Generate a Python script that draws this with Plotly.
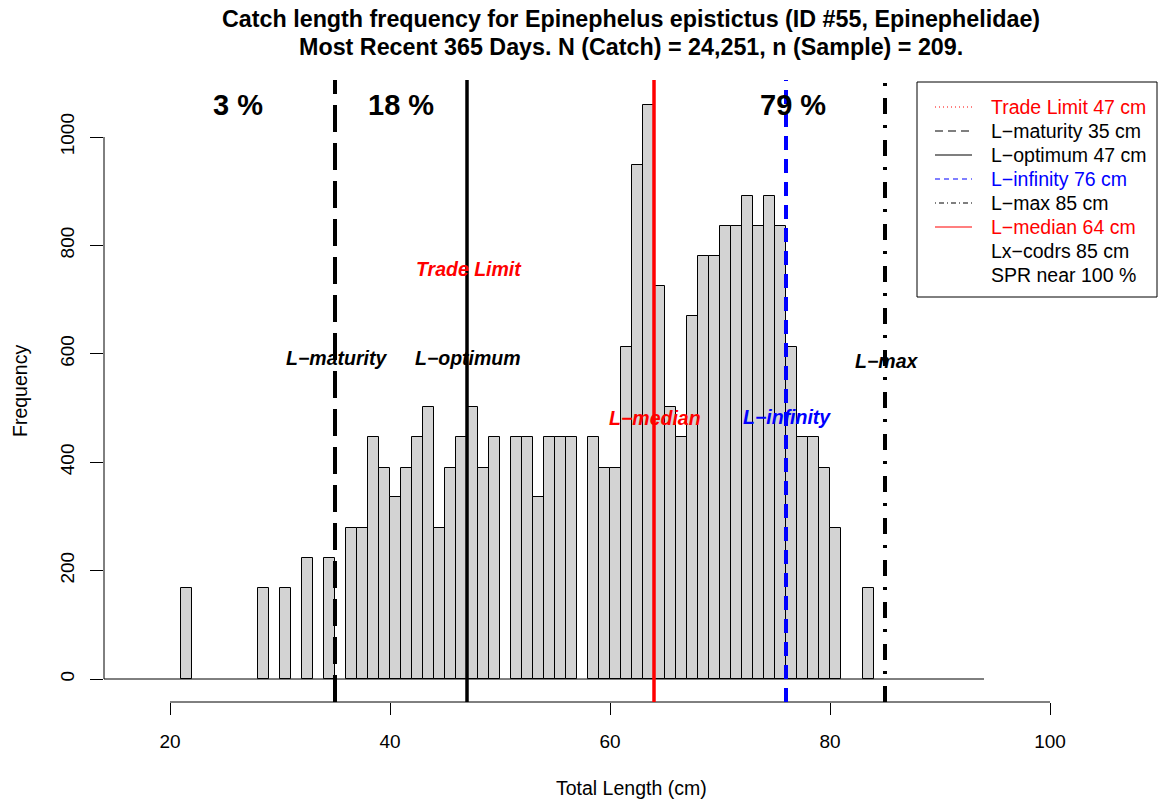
import plotly.graph_objects as go

# ---------------- data ----------------
bin_start_cm = [21, 28, 30, 32, 34, 36, 37, 38, 39, 40, 41, 42, 43, 44, 45, 46, 47, 48, 49,
                51, 52, 53, 54, 55, 56, 58, 59, 60, 61, 62, 63, 64, 65, 66, 67, 68, 69, 70,
                71, 72, 73, 74, 75, 76, 77, 78, 79, 80, 83]
frequency = [167, 167, 167, 223, 223, 279, 279, 446, 390, 335, 390, 446, 502, 279, 390, 446, 502, 390, 446,
             446, 446, 335, 446, 446, 446, 446, 390, 390, 613, 948, 1059, 725, 502, 446, 669, 781, 781, 836,
             836, 892, 836, 892, 836, 613, 446, 446, 390, 279, 167]

ref_names = ["Trade Limit", "L−maturity", "L−optimum", "L−infinity", "L−max", "L−median"]
ref_values = [47, 35, 47, 76, 85, 64]
pct_labels = ["3 %", "18 %", "79 %"]
pct_x = [26.2, 41.0, 76.6]
x_ticks = [20, 40, 60, 80, 100]
y_ticks = [0, 200, 400, 600, 800, 1000]

# ---------------- geometry ----------------
W, H = 1163, 803
L, R, T, B = 104, 1158, 80, 702
X0, X1 = 14.0, 20 + (R - 170) / 11.0
Y0, Y1 = -23 / 0.542, 599 / 0.542

def pxx(px):
    return (px - L) / (R - L)

def pxy(py):
    return (B - py) / (B - T)

FONT = "Liberation Sans, Arial, Helvetica, sans-serif"

bin_mid = [b + 0.5 for b in bin_start_cm]

fig = go.Figure()
fig.add_trace(go.Bar(
    x=bin_mid, y=frequency, width=[1.0] * len(bin_mid),
    marker=dict(color="#D3D3D3", line=dict(color="black", width=1)),
    showlegend=False, hoverinfo="x+y",
))

shapes = []
# baseline
shapes.append(dict(type="line", xref="x", yref="y", x0=14, x1=94, y0=0, y1=0,
                   line=dict(color="black", width=1)))
# axis lines limited to tick range
shapes.append(dict(type="line", xref="paper", yref="y", x0=0, x1=0, y0=0, y1=1000,
                   line=dict(color="black", width=1)))
shapes.append(dict(type="line", xref="x", yref="paper", x0=20, x1=100, y0=0, y1=0,
                   line=dict(color="black", width=1)))

line_styles = {
    "Trade Limit": dict(color="#FF0000", width=2, dash="3px,5px"),
    "L−maturity": dict(color="black", width=4, dash="27px,11px"),
    "L−optimum": dict(color="black", width=3.5, dash="solid"),
    "L−infinity": dict(color="#0000FF", width=4, dash="14px,9px"),
    "L−max": dict(color="black", width=4, dash="16px,12px,3px,11px"),
    "L−median": dict(color="#FF0000", width=3.5, dash="solid"),
}
for name, val in zip(ref_names, ref_values):
    shapes.append(dict(type="line", xref="x", yref="paper", x0=val, x1=val, y0=0, y1=1,
                       line=line_styles[name], layer="above"))

# legend box
shapes.append(dict(type="rect", xref="paper", yref="paper",
                   x0=pxx(917), x1=pxx(1157), y0=pxy(297), y1=pxy(82),
                   line=dict(color="black", width=1), fillcolor="white", layer="above"))

legend_entries = [
    ("Trade Limit 47 cm", "#FF0000", dict(color="#FF0000", width=1, dash="1px,3px")),
    ("L−maturity 35 cm", "black", dict(color="black", width=1.2, dash="8px,5px")),
    ("L−optimum 47 cm", "black", dict(color="black", width=1.2, dash="solid")),
    ("L−infinity 76 cm", "#0000FF", dict(color="#0000FF", width=1.2, dash="5px,4px")),
    ("L−max 85 cm", "black", dict(color="black", width=1.2, dash="1px,3px,5px,3px")),
    ("L−median 64 cm", "#FF0000", dict(color="#FF0000", width=1.2, dash="solid")),
    ("Lx−codrs 85 cm", "black", None),
    ("SPR near 100 %", "black", None),
]
annotations = []
for i, (txt, col, ls) in enumerate(legend_entries):
    py = 107 + 24 * i
    if ls is not None:
        shapes.append(dict(type="line", xref="paper", yref="paper",
                           x0=pxx(935), x1=pxx(972), y0=pxy(py), y1=pxy(py),
                           line=ls, layer="above"))
    annotations.append(dict(xref="paper", yref="paper", x=pxx(989), y=pxy(py),
                            text=txt, showarrow=False, xanchor="left", yanchor="middle",
                            font=dict(family=FONT, size=19.5, color=col)))

# titles
annotations.append(dict(xref="paper", yref="paper", x=pxx(631), y=pxy(19),
                        text="<b>Catch length frequency for Epinephelus epistictus (ID #55, Epinephelidae)</b>",
                        showarrow=False, xanchor="center", yanchor="middle",
                        font=dict(family=FONT, size=23.3, color="black")))
annotations.append(dict(xref="paper", yref="paper", x=pxx(631), y=pxy(47),
                        text="<b>Most Recent 365 Days. N (Catch) = 24,251, n (Sample) = 209.</b>",
                        showarrow=False, xanchor="center", yanchor="middle",
                        font=dict(family=FONT, size=23.3, color="black")))
annotations.append(dict(xref="paper", yref="paper", x=pxx(631), y=pxy(788),
                        text="Total Length (cm)", showarrow=False,
                        xanchor="center", yanchor="middle",
                        font=dict(family=FONT, size=19.5, color="black")))
annotations.append(dict(xref="paper", yref="paper", x=pxx(20), y=pxy(391),
                        text="Frequency", showarrow=False, textangle=-90,
                        xanchor="center", yanchor="middle",
                        font=dict(family=FONT, size=19.5, color="black")))

# percentage labels
for lab, xv in zip(pct_labels, pct_x):
    annotations.append(dict(xref="x", yref="paper", x=xv, y=pxy(105),
                            text="<b>" + lab + "</b>", showarrow=False,
                            xanchor="center", yanchor="middle",
                            font=dict(family=FONT, size=29, color="black")))

# reference line labels
label_pos = {
    "Trade Limit": (469, 269, "#FF0000"),
    "L−maturity": (336, 358, "black"),
    "L−optimum": (468, 358, "black"),
    "L−infinity": (787, 417, "#0000FF"),
    "L−max": (886, 361, "black"),
    "L−median": (655, 418, "#FF0000"),
}
for name in ref_names:
    px, py, col = label_pos[name]
    annotations.append(dict(xref="paper", yref="paper", x=pxx(px), y=pxy(py),
                            text="<b><i>" + name + "</i></b>", showarrow=False,
                            xanchor="center", yanchor="middle",
                            font=dict(family=FONT, size=19.5, color=col)))

fig.update_layout(
    width=W, height=H,
    margin=dict(l=L, r=W - R, t=T, b=H - B, pad=0),
    paper_bgcolor="white", plot_bgcolor="white",
    showlegend=False,
    bargap=0,
    xaxis=dict(range=[X0, X1], tickvals=x_ticks, ticktext=[str(v) for v in x_ticks],
               ticks="outside", ticklen=12, tickwidth=1, tickcolor="black",
               showline=False, showgrid=False, zeroline=False,
               tickfont=dict(family=FONT, size=19, color="black"),
               ticklabelstandoff=10, fixedrange=True),
    yaxis=dict(range=[Y0, Y1], tickvals=y_ticks, ticktext=[str(v) for v in y_ticks],
               ticks="outside", ticklen=13, tickwidth=1, tickcolor="black",
               showline=False, showgrid=False, zeroline=False, tickangle=-90,
               tickfont=dict(family=FONT, size=19, color="black"),
               ticklabelstandoff=8, fixedrange=True),
    shapes=shapes,
    annotations=annotations,
)

fig.write_html("out.html", config={"displayModeBar": False},
               post_script="document.body.style.margin='0';document.body.style.overflow='hidden';")
